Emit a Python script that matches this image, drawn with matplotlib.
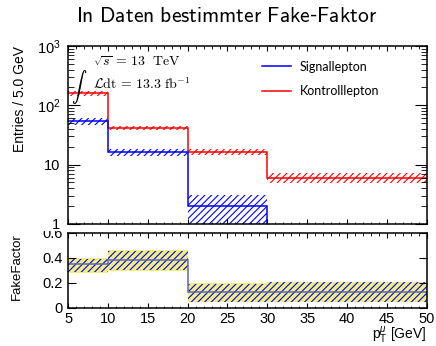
import matplotlib
matplotlib.use("Agg")
import numpy as np
import matplotlib.pyplot as plt
from matplotlib.lines import Line2D
from matplotlib.patches import Rectangle
from matplotlib.ticker import FixedLocator, FixedFormatter, LogLocator, MultipleLocator, NullFormatter

# pT bins [GeV]
edges = [5, 10, 20, 30, 50]

# upper panel: entries per bin
sig_counts = [54, 16.3, 2.0, 0]
sig_err = [7, 2.2, 1.1, 0]
ctrl_counts = [160, 42, 16.6, 6.0]
ctrl_err = [14, 3.4, 2.0, 1.1]

# lower panel: fake factor
ff_values = [0.35, 0.384, 0.13, 0.13]
ff_sys_lo = [0.28, 0.296, 0.046, 0.046]
ff_sys_hi = [0.40, 0.464, 0.198, 0.21]
ff_stat_lo = [0.29, 0.30, 0.05, 0.05]
ff_stat_hi = [0.39, 0.455, 0.195, 0.205]

y_ticks = [1, 10, 100, 1000]
y_ticklabels = ["1", "10", r"$10^2$", r"$10^3$"]
ff_ticks = [0, 0.2, 0.4, 0.6]
ff_ticklabels = ["0", "0.2", "0.4", "0.6"]

plt.rcParams["font.family"] = ["Liberation Sans", "DejaVu Sans"]
plt.rcParams["mathtext.fontset"] = "custom"
plt.rcParams["mathtext.rm"] = "Liberation Sans"
plt.rcParams["mathtext.it"] = "Liberation Sans:italic"
plt.rcParams["hatch.linewidth"] = 0.8

BLUE = "#0000ff"
RED = "#ff0000"

fig = plt.figure(figsize=(4.36, 3.46), dpi=100)
ax = fig.add_axes([0.156, 0.353, 0.823, 0.514], zorder=2)
rax = fig.add_axes([0.156, 0.110, 0.823, 0.217], zorder=1)

# --- upper panel
sig = np.array(sig_counts)
sige = np.array(sig_err)
ctrl = np.array(ctrl_counts)
ctrle = np.array(ctrl_err)

ax.stairs(ctrl + ctrle, edges, baseline=ctrl - ctrle, fill=True, facecolor="none",
          edgecolor=RED, hatch="/////", linewidth=0)
ax.stairs(sig[:3] + sige[:3], edges[:4], baseline=sig[:3] - sige[:3], fill=True,
          facecolor="none", edgecolor=BLUE, hatch="/////", linewidth=0)
ax.stairs(ctrl, edges, baseline=None, color=RED, linewidth=1.1)
ax.stairs(sig, edges, baseline=None, color=BLUE, linewidth=1.1)

ax.set_yscale("log")
ax.set_xlim(5, 50)
ax.set_ylim(1, 1000)
ax.yaxis.set_major_locator(FixedLocator(y_ticks))
ax.yaxis.set_major_formatter(FixedFormatter(y_ticklabels))
ax.yaxis.set_minor_locator(LogLocator(subs=np.arange(2, 10)))
ax.yaxis.set_minor_formatter(NullFormatter())
ax.xaxis.set_major_locator(MultipleLocator(5))
ax.xaxis.set_minor_locator(MultipleLocator(1))
ax.tick_params(which="both", direction="in", top=True, right=True, labelbottom=False)
ax.tick_params(axis="y", which="major", length=8.6, pad=5.5, labelsize=10.5)
ax.tick_params(axis="y", which="minor", length=4.3)
ax.tick_params(axis="x", which="major", length=3.6)
ax.tick_params(axis="x", which="minor", length=1.8)
ax.set_ylabel("Entries / 5.0 GeV", fontsize=10)
ax.yaxis.set_label_coords(-0.115, 0.70)

ax.text(0.07, 0.91, r"$\sqrt{s}\,=\,13\ \ \mathrm{TeV}$", transform=ax.transAxes,
        fontsize=10, va="center", ha="left", math_fontfamily="cm")
ax.text(0.008, 0.77, r"$\int$", transform=ax.transAxes,
        fontsize=11, va="center", ha="left", math_fontfamily="cm")
ax.text(0.07, 0.785, r"$\mathcal{L}\mathrm{dt}\,=\,13.3\ \mathrm{fb}^{-1}$", transform=ax.transAxes,
        fontsize=10, va="center", ha="left", math_fontfamily="cm")

handles = [Line2D([], [], color=BLUE, linewidth=1.1), Line2D([], [], color=RED, linewidth=1.1)]
ax.legend(handles, ["Signallepton", "Kontrolllepton"], loc="upper left",
          bbox_to_anchor=(0.54, 0.918), frameon=False, borderpad=0, borderaxespad=0,
          handlelength=2.3, handletextpad=0.75, labelspacing=1.0,
          prop={"family": "Lato", "size": 9})

# --- lower panel
rax.stairs(ff_sys_hi, edges, baseline=ff_sys_lo, fill=True, facecolor="#f3ef7e", linewidth=0)
rax.stairs(ff_stat_hi, edges, baseline=ff_stat_lo, fill=True, facecolor="none",
           edgecolor=BLUE, hatch="/////", linewidth=0)
rax.stairs(ff_values, edges, baseline=None, color="#5a68b8", linewidth=1.1)

rax.set_xlim(5, 50)
rax.set_ylim(0, 0.6)
rax.yaxis.set_major_locator(FixedLocator(ff_ticks))
rax.yaxis.set_major_formatter(FixedFormatter(ff_ticklabels))
rax.xaxis.set_major_locator(MultipleLocator(5))
rax.xaxis.set_minor_locator(MultipleLocator(1))
rax.tick_params(which="both", direction="in", top=True, right=True, labelsize=10.5)
rax.tick_params(axis="y", which="major", length=5.8, pad=3.6)
rax.tick_params(axis="x", which="major", length=3.6, pad=3)
rax.tick_params(axis="x", which="minor", length=1.8)
rax.set_ylabel("FakeFactor", fontsize=9.5)
rax.yaxis.set_label_coords(-0.125, 0.55)
rax.set_xlabel(r"$\mathrm{p}_{\mathrm{T}}^{\mu}$ [GeV]", fontsize=10, ha="right")
rax.xaxis.set_label_coords(1.0, -0.225)

for a in (ax, rax):
    for sp in a.spines.values():
        sp.set_linewidth(1.1)

# the upper pad hides the top of the lower "0.6" label, like in ROOT
fig.add_artist(Rectangle((0, 0.332), 0.155, 0.03, transform=fig.transFigure,
                         facecolor="white", edgecolor="none", zorder=1.5))

fig.text(0.52, 0.952, r"$\mathsf{In\ Daten\ bestimmter\ Fake}$-$\mathsf{Faktor}$",
         ha="center", va="center", fontsize=15.5, math_fontfamily="cm")

fig.savefig("out.png", dpi=100)
